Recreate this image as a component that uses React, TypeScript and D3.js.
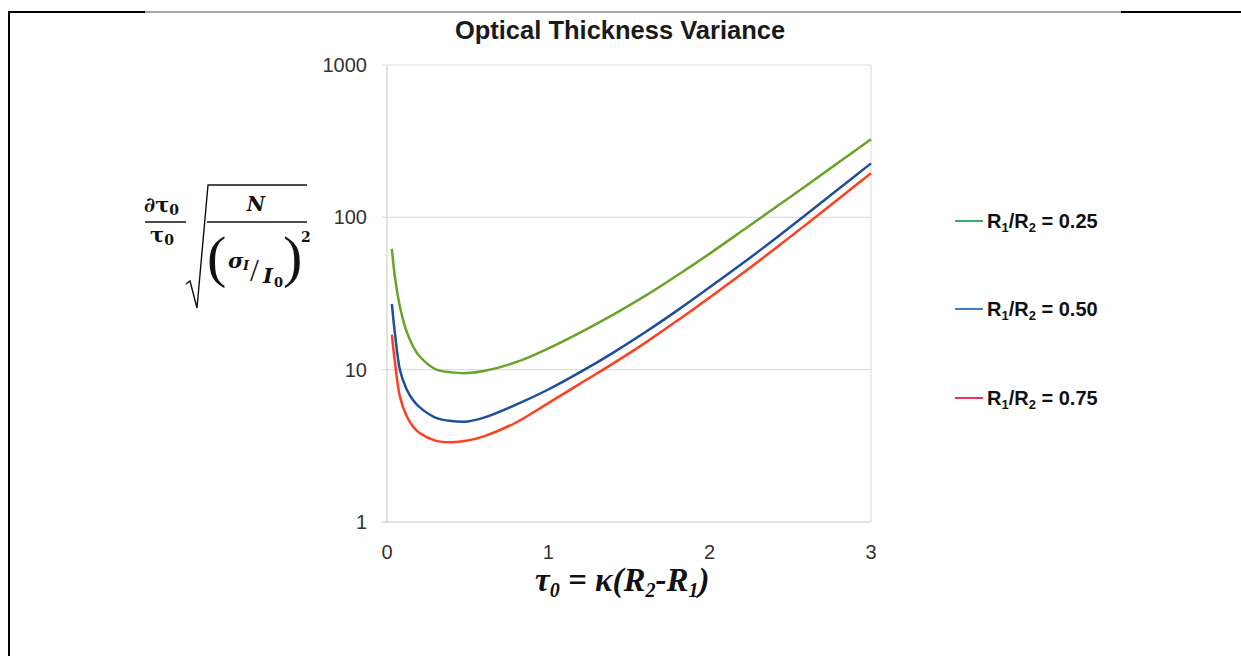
import React from 'react';
import * as d3 from 'd3';

// optical thickness tau0 (x) and normalised variance for three radius ratios
const taus = [0.03, 0.05, 0.08, 0.12, 0.16, 0.2, 0.3, 0.4, 0.5, 0.6, 0.8, 1.0, 1.2, 1.4, 1.6, 1.8, 2.0, 2.2, 2.4, 2.6, 2.8, 3.0];
const ratio025 = [62, 40, 26, 18, 14.3, 12.3, 10.1, 9.6, 9.5, 9.8, 11.2, 13.8, 17.6, 22.9, 30.5, 41.7, 57.8, 81.3, 114.8, 162, 229.6, 326];
const ratio050 = [27, 17, 10, 7.5, 6.35, 5.7, 4.85, 4.6, 4.57, 4.84, 5.89, 7.41, 9.66, 12.9, 17.6, 24.5, 34.7, 49.5, 71.6, 104.7, 153.8, 226];
const ratio075 = [17, 11, 6.65, 5.0, 4.25, 3.85, 3.42, 3.34, 3.43, 3.65, 4.5, 6.03, 8.13, 10.96, 15.0, 21.0, 29.8, 42.6, 61.7, 90.2, 132.4, 195];

const seriesNames = ['0.25', '0.50', '0.75'];
const seriesValues = [ratio025, ratio050, ratio075];
const lineColors = ['#6aa32a', '#1f4e9a', '#ff4020'];
const legendColors = ['#35ad62', '#3a7fc2', '#e8365c'];

const xTicks = [0, 1, 2, 3];
const yTicks = [1, 10, 100, 1000];

const W = 1241;
const H = 656;
const plot = { left: 387, right: 871, top: 65, bottom: 522 };

export default function App() {
  const x = d3.scaleLinear().domain([0, 3]).range([plot.left, plot.right]);
  const y = d3.scaleLog().domain([1, 1000]).range([plot.bottom, plot.top]);

  const line = d3.line<number>()
    .x((d, i) => x(taus[i]))
    .y(d => y(d))
    .curve(d3.curveCatmullRom.alpha(0.5));

  const legendY = [221, 309, 398];
  const sans = 'Liberation Sans, Arial, sans-serif';
  const serif = 'Liberation Serif, Times New Roman, serif';
  const math = 'DejaVu Serif, serif';

  return (
    <svg width={W} height={H} style={{ position: 'fixed', left: 0, top: 0, background: '#fff' }}>
      <rect x={0} y={0} width={W} height={H} fill="#fff" />

      {/* page frame */}
      <line x1={9} x2={145} y1={12} y2={12} stroke="#000" strokeWidth={2} />
      <line x1={145} x2={1121} y1={12} y2={12} stroke="#8a8a8a" strokeWidth={1.5} />
      <line x1={1121} x2={W} y1={12} y2={12} stroke="#000" strokeWidth={2} />
      <line x1={9} x2={9} y1={11} y2={H} stroke="#000" strokeWidth={2} />

      {/* title */}
      <text x={620} y={39} textAnchor="middle" fontFamily={sans} fontWeight="bold" fontSize={25.5} fill="#1a1a1a">
        Optical Thickness Variance
      </text>

      {/* grid */}
      {yTicks.map(t => (
        <line key={t} x1={plot.left - 5} x2={plot.right} y1={y(t)} y2={y(t)}
          stroke={t === 1 ? '#c8c8c8' : '#dedede'} strokeWidth={1.2} />
      ))}
      <line x1={plot.left} x2={plot.left} y1={plot.top} y2={plot.bottom} stroke="#d0d0d0" strokeWidth={1.2} />
      <line x1={plot.right} x2={plot.right} y1={plot.top} y2={plot.bottom} stroke="#e0e0e0" strokeWidth={1.2} />

      {yTicks.map(t => (
        <text key={t} x={367} y={y(t) + 7} textAnchor="end" fontFamily={sans} fontSize={20} fill="#333">{t}</text>
      ))}
      {xTicks.map(t => (
        <text key={t} x={x(t)} y={559} textAnchor="middle" fontFamily={sans} fontSize={20} fill="#333">{t}</text>
      ))}

      {/* curves */}
      {seriesValues.map((vals, i) => (
        <path key={i} d={line(vals) || ''} fill="none" stroke={lineColors[i]} strokeWidth={2.5} />
      ))}

      {/* legend */}
      {seriesNames.map((name, i) => (
        <g key={name}>
          <line x1={955} x2={983} y1={legendY[i]} y2={legendY[i]} stroke={legendColors[i]} strokeWidth={2} />
          <text x={987} y={legendY[i] + 7} fontFamily={sans} fontWeight="bold" fontSize={20} fill="#111">
            R<tspan fontSize={13} dy={4}>1</tspan><tspan dy={-4}>/R</tspan><tspan fontSize={13} dy={4}>2</tspan><tspan dy={-4}> = {name}</tspan>
          </text>
        </g>
      ))}

      {/* x axis title */}
      <text x={535} y={591} fontFamily={serif} fontWeight="bold" fontStyle="italic" fontSize={33} fill="#111">
        τ<tspan fontSize={20} dy={6}>0</tspan><tspan dy={-6}> = κ(R</tspan><tspan fontSize={20} dy={6}>2</tspan><tspan dy={-6}>-R</tspan><tspan fontSize={20} dy={6}>1</tspan><tspan dy={-6}>)</tspan>
      </text>

      {/* y axis title: d tau0/tau0 * sqrt(N / (sigma_I/I0)^2) */}
      <g fontFamily={math} fill="#111">
        <text x={144} y={212} fontWeight="bold" fontSize={21}>∂τ<tspan fontSize={14} dy={3}>0</tspan></text>
        <line x1={145} x2={186} y1={222} y2={222} stroke="#111" strokeWidth={1.5} />
        <text x={150} y={242} fontWeight="bold" fontSize={21}>τ<tspan fontSize={14} dy={3}>0</tspan></text>
        <path d="M 186 284 L 190 281 L 197 308 L 208 185 L 307 185" fill="none" stroke="#111" strokeWidth={1.4} />
        <text x={256} y={211} textAnchor="middle" fontWeight="bold" fontStyle="italic" fontSize={20}>N</text>
        <line x1={207} x2={307} y1={222} y2={222} stroke="#111" strokeWidth={1.5} />
        <text x={207} y={276} fontFamily={serif} fontSize={58}>(</text>
        <text x={228} y={268} fontWeight="bold" fontStyle="italic" fontSize={21}>σ</text>
        <text x={243} y={270} fontWeight="bold" fontStyle="italic" fontSize={13}>I</text>
        <text x={250} y={281} fontFamily={serif} fontSize={32}>/</text>
        <text x={263} y={283} fontWeight="bold" fontStyle="italic" fontSize={21}>I</text>
        <text x={274} y={287} fontWeight="bold" fontSize={13}>0</text>
        <text x={283} y={276} fontFamily={serif} fontSize={58}>)</text>
        <text x={301} y={242} fontWeight="bold" fontSize={14}>2</text>
      </g>
    </svg>
  );
}
